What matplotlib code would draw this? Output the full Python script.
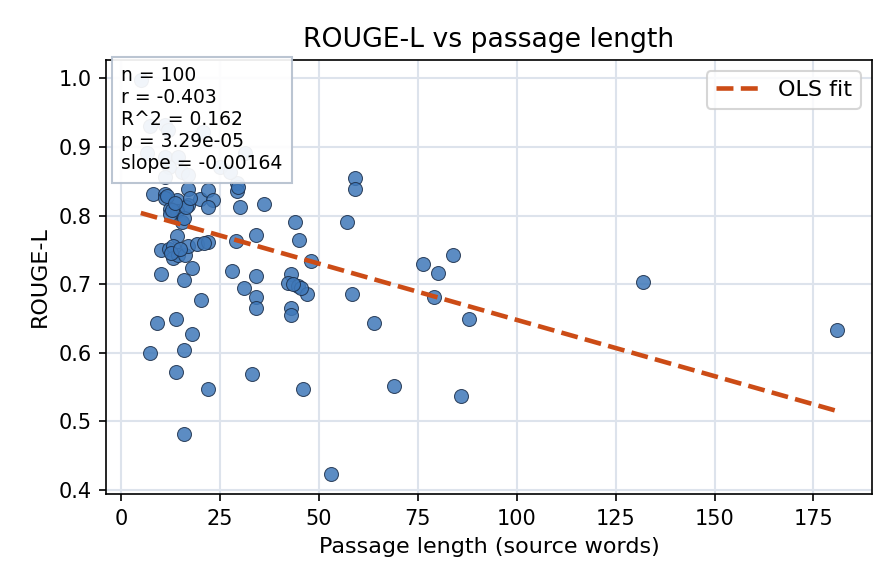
import matplotlib

matplotlib.use("Agg")
import matplotlib.pyplot as plt
import numpy as np

# passage length (source words) and ROUGE-L per item
passage_len = [
    8.2, 11.1, 11.1, 14.1, 17.0, 17.0, 20.0, 22.1, 23.3, 22.1,
    29.2, 29.2, 30.1, 36.1, 12.4, 14.1, 12.4, 15.3, 14.1, 10.1,
    12.0, 13.2, 13.2, 14.5, 16.2, 17.0, 19.1, 22.1, 29.1, 34.1,
    44.0, 45.1, 10.1, 18.0, 15.9, 28.1, 34.1, 31.1, 34.1, 34.1,
    43.0, 42.1, 44.8, 43.0, 43.0, 20.2, 9.2, 13.9, 18.0, 7.2,
    16.0, 13.9, 22.1, 33.1, 16.0, 46.1, 59.2, 59.2, 57.0, 48.0,
    47.1, 58.3, 64.0, 79.1, 88.0, 69.1, 85.9, 53.1, 76.2, 84.0,
    80.2, 132.0, 181.0, 45.6,
    5.0, 7.3, 11.1, 11.9, 20.8, 6.5, 11.1, 14.5, 12.0, 15.3,
    17.0, 11.1, 25.0, 27.6, 31.3,
    13.0, 15.8, 12.6, 14.9, 11.6, 16.5, 13.6, 29.6, 43.5, 17.5,
    21.0,
]
rouge_l = [
    0.832, 0.832, 0.825, 0.822, 0.839, 0.816, 0.824, 0.837, 0.822, 0.812,
    0.847, 0.836, 0.813, 0.817, 0.810, 0.807, 0.803, 0.790, 0.770, 0.750,
    0.751, 0.756, 0.738, 0.743, 0.743, 0.756, 0.759, 0.762, 0.763, 0.772,
    0.790, 0.765, 0.715, 0.723, 0.706, 0.719, 0.712, 0.695, 0.681, 0.666,
    0.715, 0.702, 0.697, 0.666, 0.655, 0.677, 0.643, 0.650, 0.628, 0.600,
    0.604, 0.572, 0.548, 0.569, 0.482, 0.548, 0.855, 0.838, 0.791, 0.734,
    0.686, 0.686, 0.644, 0.682, 0.649, 0.551, 0.537, 0.423, 0.729, 0.742,
    0.716, 0.703, 0.633, 0.695,
    0.998, 0.930, 0.932, 0.925, 0.922, 0.891, 0.886, 0.886, 0.871, 0.864,
    0.859, 0.856, 0.871, 0.864, 0.891,
    0.808, 0.797, 0.745, 0.751, 0.828, 0.812, 0.818, 0.842, 0.700, 0.826,
    0.760,
]

# OLS fit and summary stats as printed on the chart
ols_slope = -0.00164
ols_intercept = 0.812
stats_lines = [
    "n = 100",
    "r = -0.403",
    "R^2 = 0.162",
    "p = 3.29e-05",
    "slope = -0.00164",
]

x = np.array(passage_len)
y = np.array(rouge_l)

fig, ax = plt.subplots(figsize=(896 / 150, 584 / 150), dpi=150)
fig.subplots_adjust(left=0.1183, right=0.9732, top=0.8973, bottom=0.1541)

ax.grid(True, color="#dde3ec", linewidth=1.0)
ax.set_axisbelow(True)

ax.scatter(
    x, y, s=45, color="#3f78b9", alpha=0.85,
    edgecolor="#1c2f4a", linewidth=0.5, zorder=3,
)

xfit = np.array([x.min(), x.max()])
ax.plot(
    xfit, ols_intercept + ols_slope * xfit, "--",
    color="#cc4c16", linewidth=2.2, label="OLS fit", zorder=4,
)

ax.text(
    0.02, 0.985, "\n".join(stats_lines), transform=ax.transAxes,
    fontsize=9, va="top", ha="left", zorder=5,
    bbox=dict(boxstyle="square,pad=0.5", facecolor="white", alpha=0.92,
              edgecolor="#b5c0cf"),
)

ax.set_xticks([0, 25, 50, 75, 100, 125, 150, 175])
ax.set_yticks([0.4, 0.5, 0.6, 0.7, 0.8, 0.9, 1.0])
ax.tick_params(labelsize=10)
ax.set_xlabel("Passage length (source words)", fontsize=10.7)
ax.set_ylabel("ROUGE-L", fontsize=10.7)
ax.set_title("ROUGE-L vs passage length", fontsize=12.8)
ax.legend(loc="upper right", fontsize=10.7)

fig.savefig("out.png", dpi=150)
